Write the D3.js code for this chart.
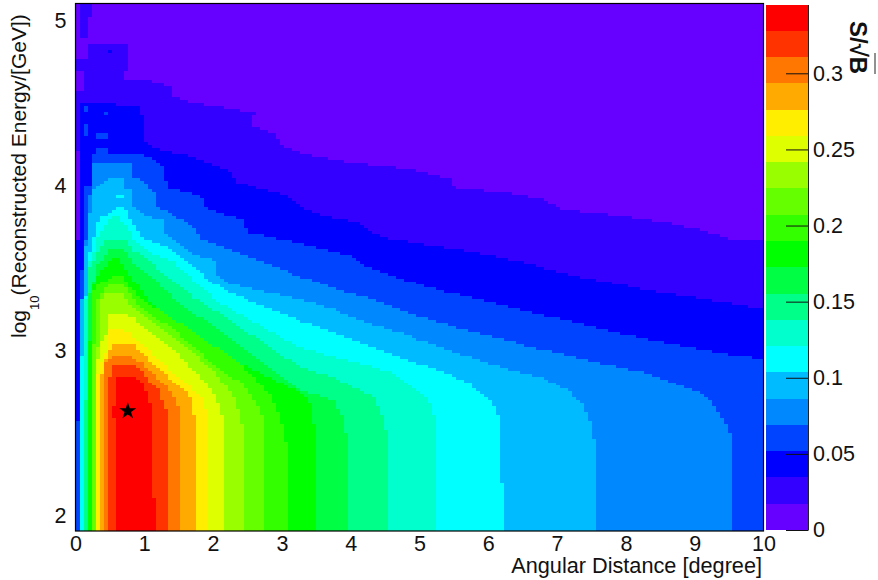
<!DOCTYPE html>
<html>
<head>
<meta charset="utf-8">
<script src="https://cdn.jsdelivr.net/npm/d3@7"></script>
<style>
    html, body { margin: 0; padding: 0; background: #fff; }
    text { font-family: "Liberation Sans", Arial, sans-serif; fill: #111; }
    .cell { shape-rendering: crispEdges; }
</style>
</head>
<body>
<div id="main"></div>
<script>
/* S/sqrt(B) levels, bottom edge of every colour band plus the top of the last */
const levels = [0, .0173, .0345, .0518, .0690, .0863, .1036, .1208, .1381, .1553, .1726,
                .1899, .2071, .2244, .2416, .2589, .2762, .2934, .3107, .3279, .3452];
const levelColors = ['#6600ff', '#3300ff', '#0000ff', '#0044ff', '#0088ff', '#00bbff', '#00ffff',
                     '#00ffcc', '#00ff88', '#00ff44', '#00ff00', '#33ff00', '#66ff00', '#99ff00',
                     '#ddff00', '#ffee00', '#ffaa00', '#ff7700', '#ff3300', '#ff0000'];

const xTicks = [0, 1, 2, 3, 4, 5, 6, 7, 8, 9, 10];
const yTicks = [2, 3, 4, 5];
const zTicks = [0, 0.05, 0.1, 0.15, 0.2, 0.25, 0.3];
const best = [0.76, 2.636];

/* contours as [degree, log10 E], region where S/sqrt(B) is above the level */
const contour1 = [[0,1.9],[0,3.67],[.07,3.67],[.07,4.22],[0,4.22],[0,4.58],[.1,4.58],[.1,4.70],[0,4.70],[0,4.78],[.19,4.78],[.19,4.87],[.73,4.87],[.73,4.70],[.67,4.65],[1.09,4.64],[1.38,4.61],[1.41,4.54],[1.72,4.50],[2.06,4.48],[2.59,4.44],[2.57,4.36],[2.88,4.32],[2.98,4.25],[3.27,4.20],[3.90,4.15],[4.91,4.10],[5.49,4.04],[5.49,3.99],[6.37,3.95],[6.76,3.92],[7.09,3.85],[7.49,3.84],[8.07,3.81],[8.55,3.78],[9.13,3.73],[9.48,3.68],[10.01,3.67],[10.01,1.9]];
const contour1Top = [[.07,5.12],[.25,5.12],[.25,5.02],[.19,5.02],[.19,4.90],[.07,4.90]];
const contour2 = [[0,1.9],[0,3.67],[.07,3.67],[.07,4.50],[.70,4.49],[.90,4.48],[.97,4.43],[.97,4.28],[1.13,4.23],[1.57,4.19],[2.15,4.11],[2.25,4.08],[2.35,4.02],[3.13,3.93],[3.27,3.87],[3.75,3.80],[4.10,3.78],[4.43,3.69],[5.16,3.64],[5.78,3.60],[6.37,3.55],[6.76,3.51],[7.19,3.46],[7.82,3.41],[8.40,3.36],[9.04,3.32],[10.01,3.25],[10.01,1.9]];
const contour2SpotA = [[.48,4.83],[.55,4.83],[.55,4.81],[.48,4.81]];
const contour2SpotB = [[.5,4.72],[.55,4.72],[.55,4.62],[.5,4.62]];
const contour3 = [[0,1.9],[0,2.58],[.07,2.58],[.07,3.49],[.13,3.49],[.13,4.0],[.25,4.0],[.25,4.19],[.31,4.19],[.31,4.24],[.49,4.24],[.49,4.2],[.99,4.19],[1.24,4.14],[1.34,3.99],[1.86,3.93],[1.86,3.87],[2.44,3.79],[2.50,3.72],[3.27,3.65],[4.04,3.57],[4.24,3.51],[4.77,3.43],[5.35,3.36],[5.89,3.31],[6.76,3.22],[7.09,3.19],[7.78,3.12],[8.55,3.05],[9.33,2.99],[10.01,2.95],[10.01,1.9]];
const contour3SpotA = [[.13,4.48],[.19,4.48],[.19,4.44],[.13,4.44]];
const contour3SpotB = [[.13,4.38],[.19,4.38],[.19,4.30],[.13,4.30]];
const contour3SpotC = [[.31,4.33],[.49,4.33],[.49,4.29],[.31,4.29]];
const contour3SpotD = [[.38,4.45],[.49,4.45],[.49,4.43],[.38,4.43]];
const contour4 = [[.07,1.9],[.07,3.31],[.13,3.31],[.13,3.67],[.19,3.67],[.19,3.95],[.25,3.95],[.25,4.14],[.84,4.14],[.84,4.05],[.94,4.04],[1.15,3.95],[1.15,3.88],[1.47,3.81],[1.72,3.75],[1.80,3.68],[2.19,3.62],[3.27,3.45],[3.81,3.37],[4.24,3.32],[4.83,3.23],[5.55,3.14],[6.13,3.08],[6.66,3.02],[7.09,2.98],[7.59,2.93],[8.26,2.87],[8.69,2.81],[9.19,2.72],[9.42,2.58],[9.52,2.48],[9.52,1.9]];
const contour5 = [[.07,1.9],[.07,3.31],[.13,3.31],[.13,3.64],[.19,3.64],[.19,3.84],[.25,3.84],[.25,3.98],[.36,4.01],[.49,4.05],[.67,4.05],[.67,3.99],[.78,3.98],[.84,3.95],[.84,3.87],[.99,3.82],[1.25,3.79],[1.29,3.72],[1.51,3.64],[1.80,3.57],[2.02,3.55],[2.05,3.46],[2.19,3.41],[3.27,3.31],[3.75,3.25],[4.24,3.17],[4.72,3.11],[4.97,3.07],[6.03,2.92],[6.76,2.84],[7.15,2.76],[7.38,2.67],[7.49,2.56],[7.54,2.43],[7.54,1.9]];
const contour6 = [[.07,1.9],[.07,2.98],[.13,2.98],[.13,3.34],[.19,3.34],[.19,3.60],[.25,3.60],[.25,3.68],[.31,3.78],[.38,3.81],[.60,3.87],[.71,3.87],[.78,3.81],[.96,3.69],[1.28,3.64],[1.47,3.58],[1.76,3.50],[1.90,3.44],[2.19,3.36],[3.27,3.18],[4.0,3.07],[4.72,2.96],[5.30,2.88],[5.70,2.81],[6.03,2.70],[6.18,2.58],[6.18,2.20],[6.24,2.20],[6.24,1.9]];
const contour6Spot = [[.6,3.95],[.67,3.95],[.67,3.92],[.6,3.92]];
const contour7 = [[.13,1.9],[.13,3.31],[.19,3.31],[.19,3.54],[.25,3.58],[.31,3.69],[.42,3.76],[.51,3.81],[.63,3.81],[.74,3.75],[.86,3.67],[1.08,3.60],[1.42,3.54],[1.66,3.45],[1.90,3.36],[2.05,3.30],[3.27,3.02],[3.90,2.95],[4.62,2.87],[5.12,2.70],[5.20,2.62],[5.26,2.44],[5.26,1.9]];
const contour8 = [[.13,1.9],[.13,2.70],[.19,2.70],[.19,3.5],[.25,3.54],[.31,3.60],[.42,3.67],[.74,3.67],[.84,3.61],[.99,3.57],[1.22,3.49],[1.42,3.42],[1.72,3.32],[2.19,3.20],[3.27,2.90],[3.75,2.84],[4.33,2.72],[4.48,2.58],[4.55,2.44],[4.55,1.9]];
const contour9 = [[.19,1.9],[.19,3.34],[.25,3.40],[.31,3.52],[.41,3.57],[.48,3.62],[.63,3.62],[.71,3.61],[.78,3.56],[.96,3.49],[1.21,3.41],[1.42,3.32],[2.25,3.07],[3.27,2.76],[3.75,2.70],[3.90,2.58],[3.95,2.44],[3.95,1.9]];
const contour10 = [[.19,1.9],[.19,3.07],[.25,3.07],[.25,3.40],[.36,3.48],[.45,3.52],[.55,3.57],[.64,3.57],[.67,3.53],[.78,3.45],[.93,3.39],[1.03,3.32],[1.38,3.19],[1.82,3.04],[2.25,2.95],[2.83,2.84],[3.34,2.73],[3.42,2.66],[3.47,2.52],[3.47,1.9]];
const contour11 = [[.25,1.9],[.25,3.37],[.36,3.41],[.52,3.45],[.67,3.45],[.71,3.42],[.93,3.32],[1.2,3.25],[1.67,3.13],[2.40,2.92],[2.83,2.73],[3.01,2.55],[3.07,2.40],[3.07,1.9]];
const contour12 = [[.25,1.9],[.25,3.04],[.31,3.07],[.31,3.31],[.36,3.33],[.47,3.40],[.67,3.40],[.76,3.37],[.90,3.27],[1.42,3.13],[2.11,2.88],[2.40,2.81],[2.69,2.64],[2.76,2.48],[2.76,1.9]];
const contour13 = [[.31,1.9],[.31,3.01],[.36,3.05],[.36,3.31],[.42,3.35],[.67,3.35],[.71,3.31],[.89,3.25],[1.28,3.13],[1.96,2.90],[2.30,2.72],[2.46,2.48],[2.46,1.9]];
const contour14 = [[.31,1.9],[.31,2.93],[.36,3.05],[.48,3.13],[.49,3.22],[.67,3.22],[.81,3.21],[1.03,3.13],[1.47,2.99],[1.72,2.88],[2.0,2.75],[2.15,2.58],[2.17,1.9]];
const contour15 = [[.31,1.9],[.31,2.84],[.36,2.93],[.48,3.01],[.49,3.13],[.67,3.13],[.78,3.11],[1.18,2.96],[1.48,2.84],[1.82,2.73],[1.93,2.60],[1.93,1.9]];
const contour16 = [[.36,1.9],[.36,2.84],[.42,2.93],[.48,2.99],[.57,3.05],[.84,3.04],[1.03,2.96],[1.32,2.85],[1.57,2.76],[1.67,2.72],[1.74,2.56],[1.74,1.9]];
const contour17 = [[.42,1.9],[.42,2.93],[.55,2.98],[.74,2.98],[.96,2.93],[1.18,2.84],[1.37,2.76],[1.47,2.68],[1.51,2.64],[1.51,1.9]];
const contour18 = [[.48,1.9],[.48,2.84],[.55,2.87],[.55,2.92],[.74,2.92],[.92,2.90],[1.06,2.82],[1.21,2.76],[1.28,2.66],[1.32,2.64],[1.32,1.9]];
const contour19 = [[.61,1.9],[.61,2.59],[.55,2.59],[.55,2.66],[.61,2.67],[.61,2.84],[.87,2.84],[.97,2.81],[1.03,2.75],[1.09,2.67],[1.09,2.10],[1.15,2.10],[1.15,1.9]];

// level index of every group of rings, index 0 is the whole frame
const rings = [
    [],
    [contour1, contour1Top],
    [contour2, contour2SpotA, contour2SpotB],
    [contour3, contour3SpotA, contour3SpotB, contour3SpotC, contour3SpotD],
    [contour4], [contour5], [contour6, contour6Spot], [contour7], [contour8], [contour9],
    [contour10], [contour11], [contour12], [contour13], [contour14], [contour15],
    [contour16], [contour17], [contour18], [contour19]
];

const binX = 10 / 172,
      binY = 0.018;

const svg = d3.select("#main")
    .append("svg")
    .attr("width", 878)
    .attr("height", 580);

const xScale = d3.scaleLinear().domain([0, 10]).range([75.5, 763.5]);
const yScale = d3.scaleLinear().domain([1.909, 5.106]).range([531, 3.5]);
const zScale = d3.scaleLinear().domain([0, levels[20]]).range([530, 4.5]);

function levelAt(x, y) {
    for (let i = rings.length - 1; i > 0; i--) {
        if (rings[i].some(r => d3.polygonContains(r, [x, y]))) return i;
    }
    return 0;
}

// walk the histogram bins, one rect for each run of equal level in a row
const runs = [];
const nx = 172, ny = Math.ceil((5.106 - 1.909) / binY);
for (let j = 0; j < ny; j++) {
    const y0 = 1.909 + j * binY;
    let start = 0, cur = levelAt(binX / 2, y0 + binY / 2);
    for (let i = 1; i <= nx; i++) {
        const l = i < nx ? levelAt((i + .5) * binX, y0 + binY / 2) : -1;
        if (l !== cur) {
            runs.push({x0: start * binX, x1: i * binX, y0: y0, y1: Math.min(y0 + binY, 5.106), level: cur});
            start = i;
            cur = l;
        }
    }
}

svg.append("g").selectAll("rect")
    .data(runs)
    .enter()
    .append("rect")
    .attr("class", "cell")
    .attr("x", d => xScale(d.x0))
    .attr("width", d => xScale(d.x1) - xScale(d.x0))
    .attr("y", d => yScale(d.y1))
    .attr("height", d => yScale(d.y0) - yScale(d.y1))
    .attr("fill", d => levelColors[d.level]);

// frame
svg.append("rect")
    .attr("x", 75.5)
    .attr("y", 3.5)
    .attr("width", 688)
    .attr("height", 527.5)
    .attr("fill", "none")
    .attr("stroke", "#000")
    .attr("stroke-width", 1.2);

// star at the optimum
svg.append("path")
    .attr("d", d3.symbol().type(d3.symbolStar).size(90)())
    .attr("transform", "translate(" + xScale(best[0]) + "," + yScale(best[1]) + ")")
    .attr("fill", "#000");

// axes, the ticks are hidden under the colours in the original
const xAxis = svg.append("g")
    .attr("transform", "translate(0,531)")
    .call(d3.axisBottom(xScale).tickValues(xTicks).tickSize(0).tickPadding(5).tickFormat(d3.format("d")));
xAxis.select(".domain").remove();
xAxis.selectAll("text").attr("font-size", 21.5).attr("font-family", null).attr("fill", null);

const yAxis = svg.append("g")
    .attr("transform", "translate(75,0)")
    .call(d3.axisLeft(yScale).tickValues(yTicks).tickSize(0).tickPadding(8.5).tickFormat(d3.format("d")));
yAxis.select(".domain").remove();
yAxis.selectAll("text").attr("font-size", 21.5);

svg.append("text")
    .text("Angular Distance [degree]")
    .attr("x", 762)
    .attr("y", 572.5)
    .attr("text-anchor", "end")
    .attr("font-size", 21.7);

const yTitle = svg.append("text")
    .attr("transform", "translate(26,338) rotate(-90)")
    .attr("font-size", 21);
yTitle.append("tspan").text("log");
yTitle.append("tspan").text("10").attr("font-size", 13).attr("dy", 13);
yTitle.append("tspan").text("(Reconstructed Energy/[GeV])").attr("dy", -13);

// colour bar
svg.append("g").selectAll("rect")
    .data(levelColors)
    .enter()
    .append("rect")
    .attr("class", "cell")
    .attr("x", 766)
    .attr("width", 42)
    .attr("y", (d, i) => zScale(levels[i + 1]))
    .attr("height", (d, i) => zScale(levels[i]) - zScale(levels[i + 1]))
    .attr("fill", d => d);

const zAxis = svg.append("g")
    .attr("transform", "translate(808,0)")
    .call(d3.axisRight(zScale).tickValues(zTicks).tickSize(-22).tickSizeOuter(0).tickPadding(5).tickFormat(d3.format("~g")));
zAxis.select(".domain").attr("stroke", "#222");
zAxis.selectAll("line").attr("stroke", "#111");
zAxis.selectAll("text").attr("font-size", 21.5);

svg.append("text")
    .attr("transform", "translate(850,21) rotate(90)")
    .attr("font-size", 24)
    .attr("font-weight", "bold")
    .text("S/√B");
svg.append("line")
    .attr("x1", 875).attr("x2", 875)
    .attr("y1", 53).attr("y2", 74)
    .attr("stroke", "#222");
</script>
</body>
</html>
